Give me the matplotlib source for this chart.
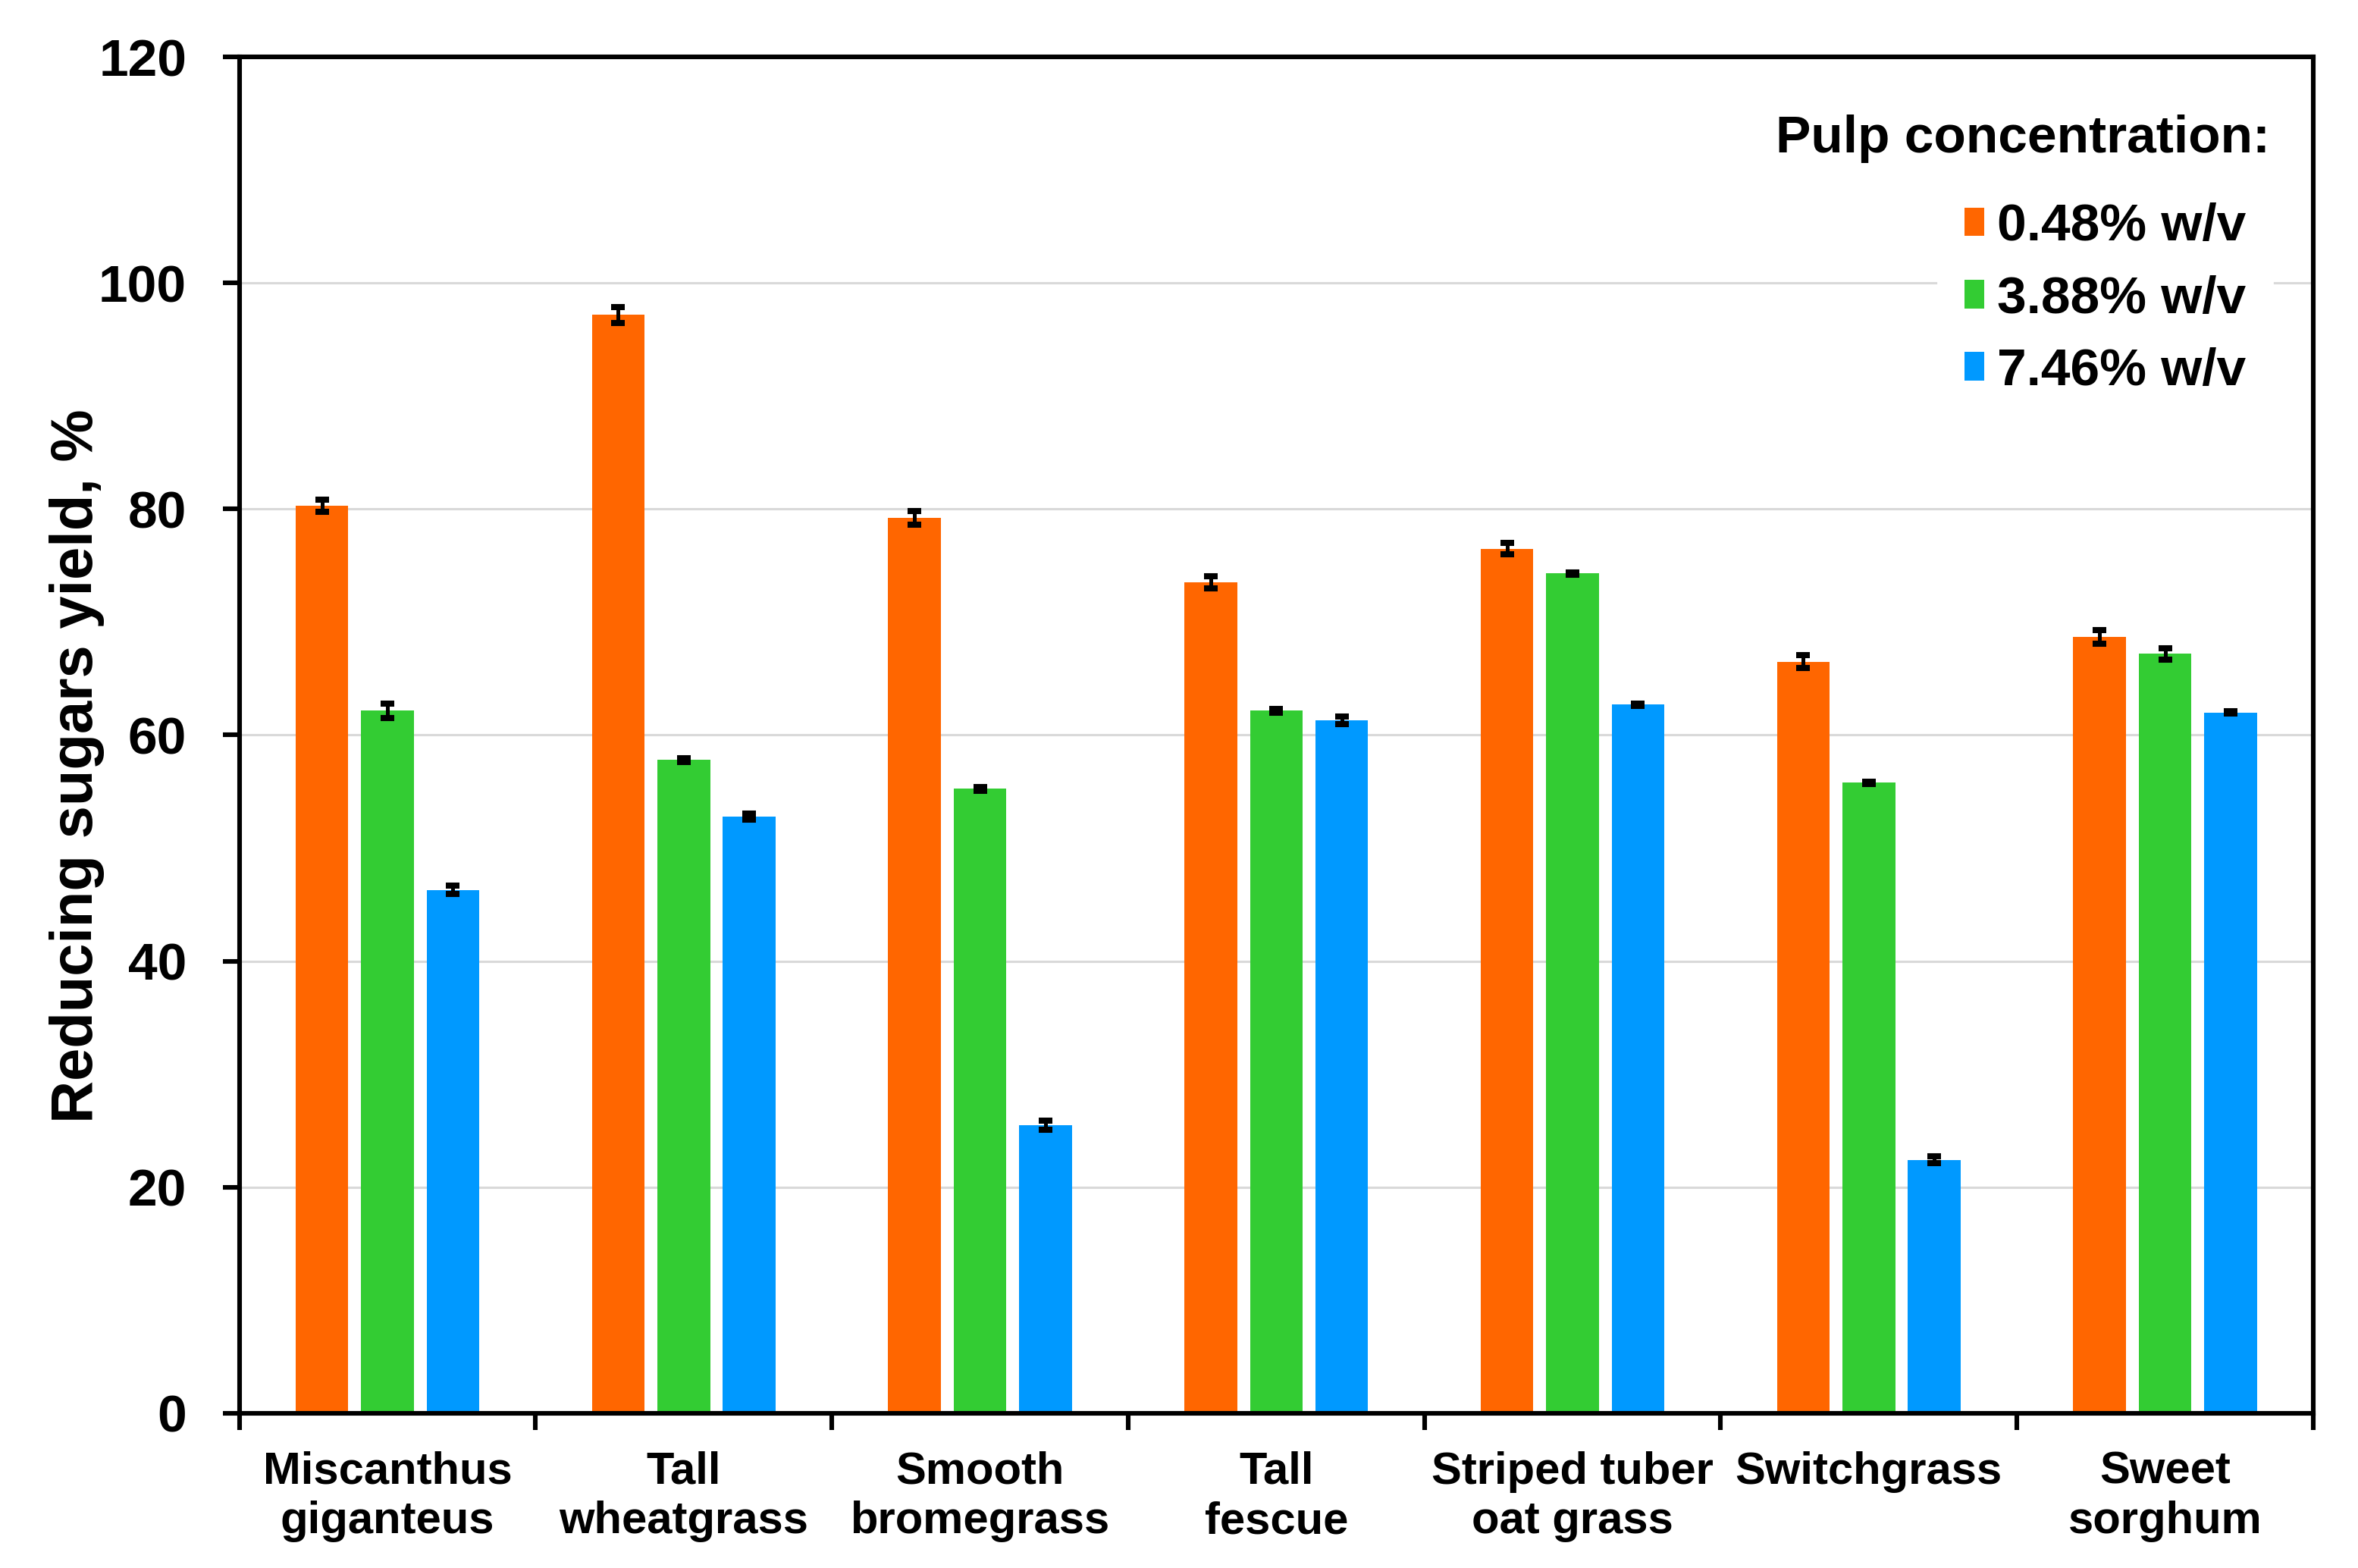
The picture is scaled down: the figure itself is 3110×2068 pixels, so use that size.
import matplotlib
matplotlib.use("Agg")
import matplotlib.pyplot as plt
import numpy as np

plt.rcParams['font.family'] = ['Liberation Sans', 'DejaVu Sans']
plt.rcParams['font.weight'] = 'bold'

# data
categories = ["Miscanthus\ngiganteus", "Tall\nwheatgrass", "Smooth\nbromegrass",
              "Tall\nfescue", "Striped tuber\noat grass", "Switchgrass",
              "Sweet\nsorghum"]
series_names = ["0.48% w/v", "3.88% w/v", "7.46% w/v"]
yield_048 = [80.3, 97.2, 79.2, 73.5, 76.5, 66.5, 68.7]
yield_388 = [62.15, 57.8, 55.25, 62.15, 74.3, 55.8, 67.2]
yield_746 = [46.3, 52.8, 25.5, 61.3, 62.7, 22.4, 62.0]
err_048 = [0.55, 0.7, 0.6, 0.55, 0.5, 0.55, 0.6]
err_388 = [0.65, 0.15, 0.15, 0.15, 0.12, 0.1, 0.5]
err_746 = [0.35, 0.25, 0.4, 0.35, 0.1, 0.3, 0.1]
colors = ["#FF6600", "#33CC33", "#0099FF"]

fig = plt.figure(figsize=(15.55, 10.34), dpi=200)
ax = fig.add_axes([0.1015, 0.0988, 0.8795, 0.8648])

x = np.arange(len(categories))
width = 0.178
step = 0.221
values = [yield_048, yield_388, yield_746]
errors = [err_048, err_388, err_746]
for i in range(3):
    ax.bar(x + (i - 1) * step, values[i], width, color=colors[i],
           label=series_names[i], zorder=2)
    ax.errorbar(x + (i - 1) * step, values[i], yerr=errors[i], fmt='none',
                ecolor='black', elinewidth=1.8, capsize=3.4, capthick=2.9,
                zorder=3)

ax.set_xlim(-0.5, len(categories) - 0.5)
ax.set_ylim(0, 120)
ax.set_yticks(np.arange(0, 121, 20))
ax.yaxis.grid(True, color='#D9D9D9', linewidth=1.1)
ax.set_axisbelow(True)

# ticks at group boundaries, labels at centres
ax.set_xticks(np.arange(-0.5, len(categories), 1.0))
ax.set_xticklabels([])
ax.set_xticks(x, minor=True)
ax.set_xticklabels(categories, minor=True, fontsize=21.5, fontweight='bold',
                   linespacing=1.25)
ax.tick_params(axis='x', which='minor', length=0, pad=18)
ax.tick_params(axis='x', which='major', length=8, width=2.2, direction='out')
ax.tick_params(axis='y', length=8, width=2.2, direction='out', pad=17,
               labelsize=25)
for lab in ax.get_yticklabels():
    lab.set_fontweight('bold')

for sp in ax.spines.values():
    sp.set_linewidth(2.2)
    sp.set_color('black')

ax.set_ylabel("Reducing sugars yield, %", fontsize=28, fontweight='bold')
ax.yaxis.set_label_coords(-0.065, 0.477)

ax.text(0.860, 0.940, "Pulp concentration:", transform=ax.transAxes,
        ha='center', va='center', fontsize=25, fontweight='bold')
leg = ax.legend(loc='upper left', bbox_to_anchor=(0.819, 0.912),
                fontsize=25, frameon=True, fancybox=False, framealpha=1,
                edgecolor='white', handlelength=0.38, handleheight=0.45,
                handletextpad=0.25, labelspacing=0.45, borderpad=0.5,
                borderaxespad=0)
for t in leg.get_texts():
    t.set_fontweight('bold')

fig.savefig("out.png", dpi=200)
